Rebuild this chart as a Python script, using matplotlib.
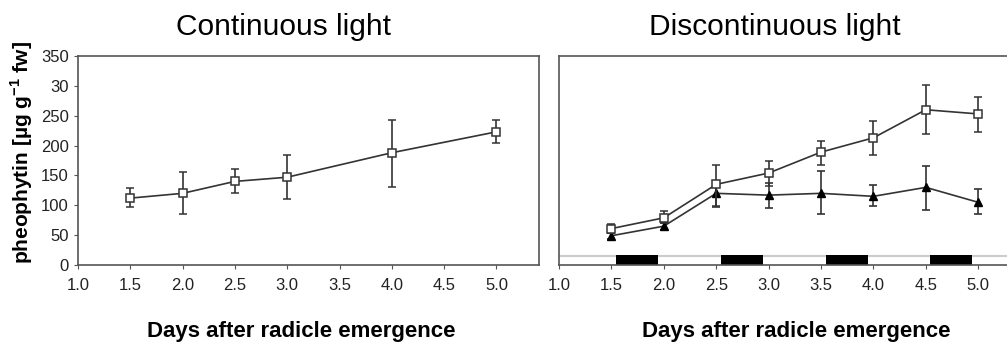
import matplotlib.pyplot as plt
import numpy as np

plt.rcParams['font.family'] = ['Liberation Sans', 'DejaVu Sans']

# continuous light
days_c = [1.5, 2.0, 2.5, 3.0, 4.0, 5.0]
pheo_c = [112, 120, 140, 147, 188, 223]
pheo_c_hi = [129, 155, 160, 184, 242, 242]
pheo_c_lo = [97, 86, 121, 110, 131, 205]

# discontinuous light
days_d = [1.5, 2.0, 2.5, 3.0, 3.5, 4.0, 4.5, 5.0]
pheo_sq = [61, 79, 135, 154, 189, 213, 260, 253]
pheo_sq_hi = [68, 90, 168, 174, 207, 241, 301, 282]
pheo_sq_lo = [54, 70, 99, 133, 167, 184, 220, 222]
pheo_tri = [49, 65, 120, 117, 120, 115, 130, 105]
pheo_tri_hi = [54, 71, 138, 138, 157, 134, 166, 128]
pheo_tri_lo = [44, 59, 97, 96, 85, 98, 92, 85]

# dark periods
dark_start = [1.54, 2.55, 3.55, 4.54]
dark_len = [0.40, 0.40, 0.40, 0.40]

yticks = [0, 50, 100, 150, 200, 250, 300, 350]
ytick_labels = ['0', '50', '100', '150', '200', '250', '30', '350']
xticks = [1.0, 1.5, 2.0, 2.5, 3.0, 3.5, 4.0, 4.5, 5.0]

W, H = 1007, 342
fig = plt.figure(figsize=(W / 100, H / 100), dpi=100)

line_c = '#333333'
spine_c = '#555555'


def err(v, hi, lo):
    v = np.array(v)
    return [v - np.array(lo), np.array(hi) - v]


def style(ax):
    for s in ax.spines.values():
        s.set_color(spine_c)
        s.set_linewidth(1.2)
    ax.set_xticks(xticks)
    ax.set_xticklabels([f'{t:.1f}' for t in xticks])
    ax.tick_params(colors=spine_c, labelcolor='#222222', labelsize=12,
                   length=3, width=0.8)
    ax.tick_params(axis='x', pad=6)
    ax.set_ylim(0, 350)


ax1 = fig.add_axes([78 / W, 1 - 265 / H, (539 - 78) / W, (265 - 56) / H])
ax1.errorbar(days_c, pheo_c, yerr=err(pheo_c, pheo_c_hi, pheo_c_lo),
             color=line_c, lw=1.2, elinewidth=1.2, capsize=3, capthick=1.2,
             marker='s', ms=6, mfc='white', mec=line_c, mew=1.1)
ax1.set_xlim(1.0, 1.0 + (539 - 78) / 104.6)
style(ax1)
ax1.set_yticks(yticks)
ax1.set_yticklabels(ytick_labels)

ax2 = fig.add_axes([559 / W, 1 - 265 / H, (1012 - 559) / W, (265 - 56) / H])
ax2.axhline(15, color='#cccccc', lw=1.5, zorder=1)
ax2.bar(dark_start, [17] * len(dark_start), width=dark_len, align='edge',
        color='black', zorder=2)
ax2.errorbar(days_d, pheo_tri, yerr=err(pheo_tri, pheo_tri_hi, pheo_tri_lo),
             color=line_c, lw=1.2, elinewidth=1.2, capsize=3, capthick=1.2,
             marker='^', ms=6, mfc='black', mec='black', zorder=3)
ax2.errorbar(days_d, pheo_sq, yerr=err(pheo_sq, pheo_sq_hi, pheo_sq_lo),
             color=line_c, lw=1.2, elinewidth=1.2, capsize=3, capthick=1.2,
             marker='s', ms=6, mfc='white', mec=line_c, mew=1.1, zorder=4)
ax2.set_xlim(1.0, 1.0 + (1012 - 559) / 104.8)
style(ax2)
ax2.set_yticks([])

# titles, axis labels
fig.text(283 / W, 1 - 35 / H, 'Continuous light', fontsize=21.5,
         ha='center', va='baseline')
fig.text(775 / W, 1 - 35 / H, 'Discontinuous light', fontsize=21.5,
         ha='center', va='baseline')
fig.text(301 / W, 1 - 337 / H, 'Days after radicle emergence', fontsize=16,
         fontweight='bold', ha='center', va='baseline')
fig.text(796 / W, 1 - 337 / H, 'Days after radicle emergence', fontsize=16,
         fontweight='bold', ha='center', va='baseline')
fig.text(22 / W, 1 - 153 / H, 'pheophytin [µg g$^{\\mathregular{-1}}$ fw]',
         fontsize=15, fontweight='bold', rotation=90, ha='center', va='center')

fig.savefig('out.png', dpi=100)
